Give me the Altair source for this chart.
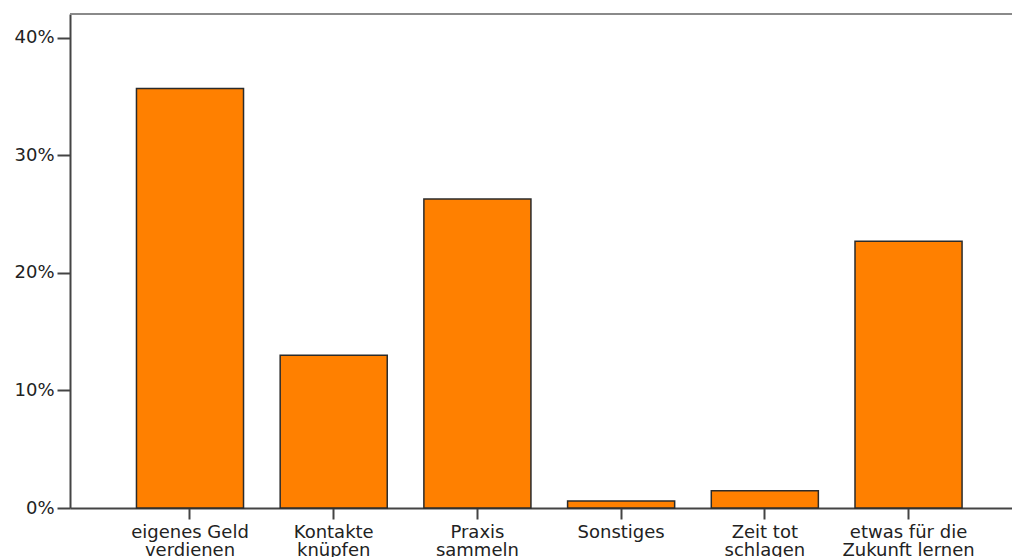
import altair as alt
import pandas as pd

categories = [
    "eigenes Geld|verdienen",
    "Kontakte|knüpfen",
    "Praxis|sammeln",
    "Sonstiges",
    "Zeit tot|schlagen",
    "etwas für die|Zukunft lernen",
]
shares = [0.357, 0.130, 0.263, 0.006, 0.0147, 0.227]
y_ticks = [0.0, 0.1, 0.2, 0.3, 0.4]

df = pd.DataFrame({"kategorie": categories, "anteil": shares})

W, H = 942, 494

bars = alt.Chart(df).mark_bar(
    color="#FF8000", stroke="#2b2b2b", strokeWidth=1.5
).encode(
    x=alt.X(
        "kategorie:N",
        sort=categories,
        title=None,
        scale=alt.Scale(paddingInner=0.255, paddingOuter=0.405, align=0.571),
        axis=alt.Axis(
            labelExpr="split(datum.label, '|')",
            labelAngle=0,
            labelLineHeight=18,
            tickSize=11,
            labelPadding=4,
            labelBaseline="top",
        ),
    ),
    y=alt.Y(
        "anteil:Q",
        title=None,
        scale=alt.Scale(domain=[0, 0.4204], nice=False),
        axis=alt.Axis(values=y_ticks, format=".0%", tickSize=13, labelPadding=3, grid=False),
    ),
)

top_line = alt.Chart(df).mark_rule(color="#8a8a8a", strokeWidth=2).encode(
    x=alt.value(0), x2=alt.value(W), y=alt.value(0)
)

chart = alt.layer(bars, top_line).properties(
    width=W,
    height=H,
    autosize=alt.AutoSizeParams(type="none"),
    padding={"left": 62, "top": 6, "right": 0, "bottom": 56},
).configure_view(stroke=None).configure_axis(
    labelFont="DejaVu Sans",
    labelFontSize=18,
    labelColor="#222222",
    domainColor="#444444",
    domainWidth=2,
    tickColor="#444444",
    tickWidth=2,
)

chart.save("out.html", embed_options={"renderer": "svg", "actions": False})
